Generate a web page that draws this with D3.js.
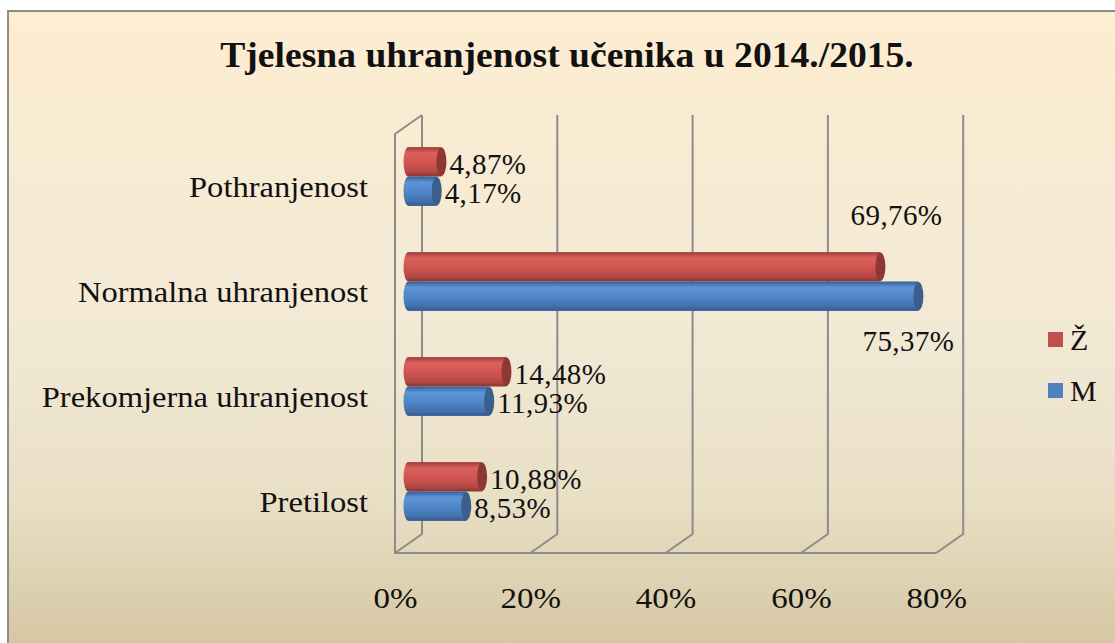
<!DOCTYPE html>
<html>
<head>
<meta charset="utf-8">
<script src="https://cdn.jsdelivr.net/npm/d3@7"></script>
<style>
  html, body { margin: 0; padding: 0; background: #fff; }
  svg { display: block; }
  text { font-family: "Liberation Serif", "Times New Roman", serif; fill: #111; }
</style>
</head>
<body>
<svg width="1115" height="643"></svg>
<script>
const categories = ['Pothranjenost', 'Normalna uhranjenost', 'Prekomjerna uhranjenost', 'Pretilost'];
const seriesNames = ['Ž', 'M'];
const zValues = [0.0487, 0.6976, 0.1448, 0.1088];
const mValues = [0.0417, 0.7537, 0.1193, 0.0853];
const tickValues = [0, 0.2, 0.4, 0.6, 0.8];

const svg = d3.select('svg');
const width = +svg.attr('width');
const height = +svg.attr('height');

const defs = svg.append('defs');

// background gradient
const bg = defs.append('linearGradient')
  .attr('id', 'bg').attr('x1', 0).attr('y1', 0).attr('x2', 0).attr('y2', 1);
bg.append('stop').attr('offset', '0%').attr('stop-color', '#fdedd1');
bg.append('stop').attr('offset', '50%').attr('stop-color', '#f2e9d5');
bg.append('stop').attr('offset', '75%').attr('stop-color', '#e9dfc5');
bg.append('stop').attr('offset', '100%').attr('stop-color', '#d3c49e');

svg.append('rect')
  .attr('x', 8).attr('y', 11)
  .attr('width', width + 10).attr('height', height + 10)
  .attr('fill', 'url(#bg)')
  .attr('stroke', '#8c8c8c')
  .attr('stroke-width', 2);

// cylinder gradients
const colors = {
  'Ž': { stops: ['#9c3d3a', '#dc605c', '#cf5451', '#b24744', '#8a3431'], cap: '#8e3836' },
  'M': { stops: ['#365f96', '#5c94d8', '#4f86c8', '#426fab', '#34598e'], cap: '#3a5f8e' }
};
seriesNames.forEach((s, i) => {
  const gr = defs.append('linearGradient')
    .attr('id', 'cyl' + i).attr('x1', 0).attr('y1', 0).attr('x2', 0).attr('y2', 1);
  [0, 0.2, 0.55, 0.85, 1].forEach((o, j) => {
    gr.append('stop').attr('offset', o).attr('stop-color', colors[s].stops[j]);
  });
});

// scales (mid-depth of the 3D box)
const depthX = 27;
const depthY = 19;
const x = d3.scaleLinear().domain([0, 0.8]).range([408.5, 408.5 + 4 * 135.3]);
const y = d3.scaleBand().domain(categories).range([124, 544]).paddingInner(0.44).paddingOuter(0.22);
const ySub = d3.scaleBand().domain(seriesNames).range([0, y.bandwidth()]);

const backTop = 115, backBottom = 534;
const frontTop = backTop + depthY, frontBottom = backBottom + depthY;

// gridlines / walls
const grid = svg.append('g')
  .attr('stroke', '#8c8c8c')
  .attr('stroke-width', 2)
  .attr('fill', 'none');

tickValues.forEach(v => {
  const bx = x(v) + depthX / 2;
  grid.append('path')
    .attr('d', `M${bx},${backTop}V${backBottom}L${bx - depthX},${frontBottom}`);
});
const fx0 = x(0) - depthX / 2;
grid.append('path')
  .attr('d', `M${fx0 + depthX},${backTop}L${fx0},${frontTop}V${frontBottom}H${x(0.8) - depthX / 2}`);

// bars as cylinders
const rx = 5;
const barData = [];
categories.forEach((c, i) => {
  barData.push({ cat: c, s: 'Ž', si: 0, v: zValues[i] });
  barData.push({ cat: c, s: 'M', si: 1, v: mValues[i] });
});

const bars = svg.append('g').selectAll('g')
  .data(barData)
  .join('g')
  .attr('transform', d => `translate(0,${y(d.cat) + ySub(d.s)})`);

const bh = ySub.bandwidth();
bars.append('ellipse')
  .attr('cx', x(0)).attr('cy', bh / 2)
  .attr('rx', rx).attr('ry', bh / 2)
  .attr('fill', d => `url(#cyl${d.si})`);
bars.append('rect')
  .attr('x', x(0)).attr('y', 0)
  .attr('width', d => x(d.v) - x(0)).attr('height', bh)
  .attr('fill', d => `url(#cyl${d.si})`);
bars.append('ellipse')
  .attr('cx', d => x(d.v)).attr('cy', bh / 2)
  .attr('rx', rx).attr('ry', bh / 2 - 0.5)
  .attr('fill', d => colors[d.s].cap);

// data labels
const fmt = v => d3.format('.2f')(v * 100).replace('.', ',') + '%';
bars.append('text')
  .attr('font-size', 29)
  .attr('letter-spacing', 0.4)
  .attr('text-anchor', d => d.v > 0.5 ? 'end' : 'start')
  .attr('x', d => {
    if (d.v > 0.5) return d.s === 'Ž' ? x(d.v) + rx + 57 : x(d.v) + rx + 31;
    return x(d.v) + rx + 3;
  })
  .attr('y', d => {
    if (d.v > 0.5) return d.s === 'Ž' ? -27 : bh + 40;
    return bh / 2 + 12;
  })
  .text(d => fmt(d.v));

// category axis
const yAxis = svg.append('g')
  .attr('transform', `translate(368,0)`)
  .call(d3.axisLeft(y).tickSize(0).tickPadding(0));
yAxis.select('.domain').remove();
yAxis.selectAll('text')
  .attr('font-family', '"Liberation Serif", "Times New Roman", serif')
  .attr('font-size', 30)
  .attr('fill', '#111')
  .attr('dy', null)
  .attr('y', 20)
  .attr('x', 0)
  .attr('transform', 'scale(1.085,1)');

// value axis (front edge)
const xFront = x.copy().range(x.range().map(r => r - depthX / 2));
const xAxis = svg.append('g')
  .attr('transform', `translate(0,${frontBottom})`)
  .call(d3.axisBottom(xFront).tickValues(tickValues).tickFormat(d3.format('.0%')).tickSize(0));
xAxis.select('.domain').remove();
xAxis.selectAll('text')
  .attr('font-family', '"Liberation Serif", "Times New Roman", serif')
  .attr('font-size', 30)
  .attr('fill', '#111')
  .attr('dy', null)
  .attr('y', 55)
  .attr('transform', 'scale(1.1,1)');

// title
svg.append('text')
  .attr('transform', 'translate(567,67) scale(1.045,1)')
  .attr('text-anchor', 'middle')
  .attr('font-size', 36)
  .attr('font-weight', 'bold')
  .text('Tjelesna uhranjenost učenika u 2014./2015.');

// legend
const legend = svg.append('g').selectAll('g')
  .data(seriesNames)
  .join('g')
  .attr('transform', (d, i) => `translate(1048,${332 + i * 51})`);
legend.append('rect')
  .attr('width', 15).attr('height', 15)
  .attr('fill', d => d === 'Ž' ? '#c0504d' : '#4f81bd');
legend.append('text')
  .attr('x', 22).attr('y', 18)
  .attr('font-size', 30)
  .text(d => d);
</script>
</body>
</html>
